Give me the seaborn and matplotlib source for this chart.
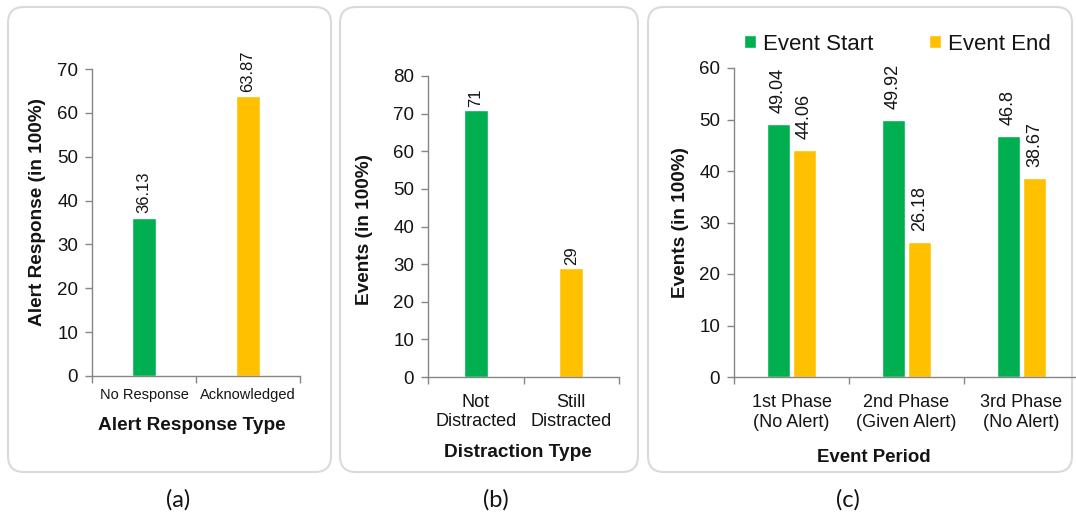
import numpy as np
import pandas as pd
import seaborn as sns
import matplotlib
matplotlib.use('Agg')
from matplotlib import pyplot as plt
from matplotlib.patches import FancyBboxPatch
from matplotlib.transforms import IdentityTransform

sns.set_style('ticks')
plt.rcParams['font.family'] = ['Liberation Sans', 'DejaVu Sans']

#------------------------------------------------------------------------------
# Data
#------------------------------------------------------------------------------
response_types = ['No Response', 'Acknowledged']
response_values = [36.13, 63.87]

distraction_types = ['Not\nDistracted', 'Still\nDistracted']
distraction_values = [71, 29]

periods = ['1st Phase\n(No Alert)', '2nd Phase\n(Given Alert)', '3rd Phase\n(No Alert)']
series = ['Event Start', 'Event End']
event_start = [49.04, 49.92, 46.8]
event_end = [44.06, 26.18, 38.67]

GREEN = '#00B050'
YELLOW = '#FFC000'
AXCOL = '#868686'
TXT = '#141414'

#------------------------------------------------------------------------------
# Figure
#------------------------------------------------------------------------------
W, H = 1076, 516
fig = plt.figure(figsize=(W / 100, H / 100), dpi=100)

# rounded panel frames (pixel coords)
for x0, x1 in [(8, 331), (340, 638), (648, 1072)]:
    y0, y1 = H - 472, H - 7
    fig.patches.append(FancyBboxPatch((x0, y0), x1 - x0, y1 - y0,
                                      boxstyle='round,pad=0,rounding_size=16',
                                      transform=IdentityTransform(),
                                      facecolor='white', edgecolor='#dadada',
                                      linewidth=1.5, zorder=-1))

ax_a = fig.add_axes([92 / W, 1 - 376 / H, 208 / W, 307 / H])
ax_b = fig.add_axes([428 / W, 1 - 377 / H, 191 / W, 301 / H])
ax_c = fig.add_axes([734 / W, 1 - 377 / H, 345 / W, 309 / H])


def style_axis(ax, n, ymax, ystep, ytick_size, xtick_size, xpad, lsp):
    ax.set_facecolor('none')
    ax.set_xlim(-0.5, n - 0.5)
    ax.set_ylim(0, ymax)
    ax.set_yticks(np.arange(0, ymax + 1, ystep))
    ax.spines['right'].set_visible(False)
    ax.spines['top'].set_visible(False)
    for s in ['left', 'bottom']:
        ax.spines[s].set_color(AXCOL)
        ax.spines[s].set_linewidth(1)
    labels = [t.get_text() for t in ax.get_xticklabels()]
    # tick marks at category boundaries, labels at centers
    ax.set_xticks(np.arange(-0.5, n, 1.0))
    ax.set_xticklabels([])
    ax.set_xticks(np.arange(n), minor=True)
    ax.set_xticklabels(labels, minor=True, fontsize=xtick_size, color=TXT,
                       linespacing=lsp)
    ax.tick_params(axis='x', which='minor', length=0, pad=xpad)
    ax.tick_params(axis='both', which='major', length=5, width=1, color=AXCOL,
                   labelsize=ytick_size, labelcolor=TXT, pad=5)


LABEL = dict(fontsize=13.7, fontweight='bold', va='center', color=TXT)

# (a) Alert response
sns.barplot(x=response_types, y=response_values, hue=response_types,
            palette=[GREEN, YELLOW], width=0.23, legend=False, ax=ax_a,
            saturation=1)
style_axis(ax_a, 2, 70, 10, 13.5, 10.5, 9, 1.1)
for c in ax_a.containers:
    ax_a.bar_label(c, fmt='%g', rotation=90, padding=3, fontsize=12, color=TXT)
ax_a.set_xlabel('Alert Response Type', **LABEL)
ax_a.set_ylabel('Alert Response (in 100%)', **LABEL)
ax_a.xaxis.set_label_coords(0.48, -0.160)
ax_a.yaxis.set_label_coords(-0.264, 0.534)

# (b) Distraction
sns.barplot(x=distraction_types, y=distraction_values, hue=distraction_types,
            palette=[GREEN, YELLOW], width=0.25, legend=False, ax=ax_b,
            saturation=1)
style_axis(ax_b, 2, 80, 10, 13.5, 13, 12, 1.2)
for c in ax_b.containers:
    ax_b.bar_label(c, fmt='%g', rotation=90, padding=2, fontsize=12, color=TXT)
ax_b.set_xlabel('Distraction Type', **LABEL)
ax_b.set_ylabel('Events (in 100%)', **LABEL)
ax_b.xaxis.set_label_coords(0.47, -0.252)
ax_b.yaxis.set_label_coords(-0.335, 0.49)

# (c) Event periods
df_c = pd.DataFrame({
    'period': periods * 2,
    'series': [series[0]] * 3 + [series[1]] * 3,
    'value': event_start + event_end,
})
sns.barplot(data=df_c, x='period', y='value', hue='series', hue_order=series,
            palette=[GREEN, YELLOW], width=0.45, gap=0.1, ax=ax_c,
            saturation=1)
style_axis(ax_c, 3, 60, 10, 13.5, 13, 12, 1.28)
for c in ax_c.containers:
    ax_c.bar_label(c, fmt='%g', rotation=90, padding=8, fontsize=13, color=TXT)
ax_c.set_xlabel('Event Period', fontsize=13.4, fontweight='bold', va='center', color=TXT)
ax_c.set_ylabel('Events (in 100%)', **LABEL)
ax_c.xaxis.set_label_coords(0.406, -0.259)
ax_c.yaxis.set_label_coords(-0.154, 0.50)
handles, labels = ax_c.get_legend_handles_labels()
ax_c.legend(handles, labels, ncol=2, frameon=False, fontsize=16,
            loc='center left', bbox_to_anchor=(744 / W, 1 - 44 / H),
            bbox_transform=fig.transFigure, borderpad=0, borderaxespad=0,
            handlelength=0.55, handleheight=0.55, handletextpad=0.3,
            columnspacing=2.5, labelcolor=TXT)

# panel captions
for x, lab in [(178, '(a)'), (496, '(b)'), (848, '(c)')]:
    fig.text(x / W, 1 - 500 / H, lab, ha='center', va='center', fontsize=17,
             family=['Lato', 'DejaVu Sans'], color=TXT)

plt.savefig('out.png', dpi=100)
